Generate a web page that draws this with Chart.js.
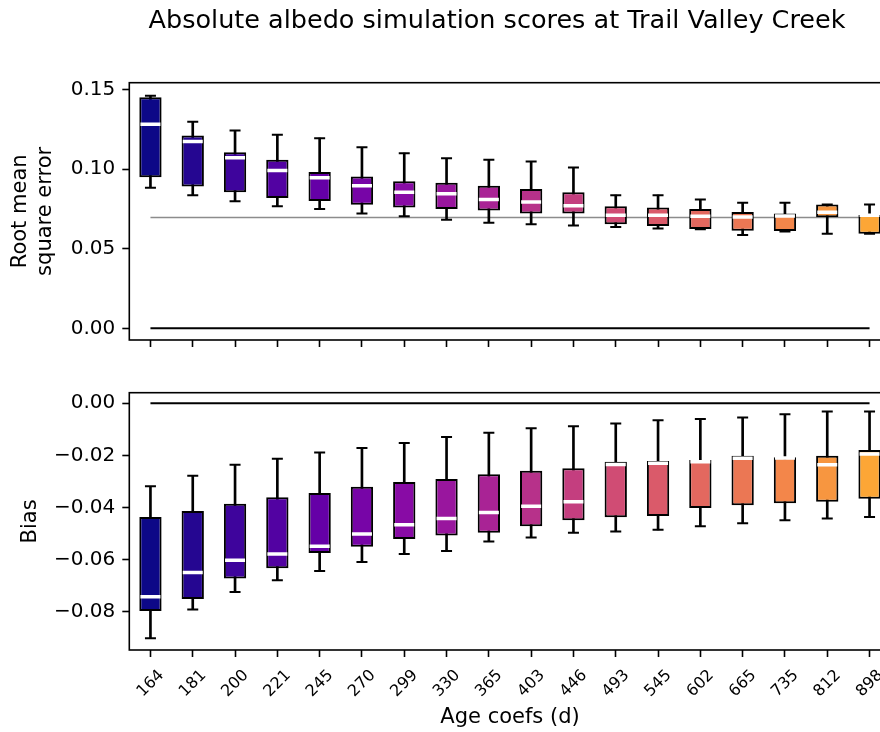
<!DOCTYPE html>
<html>
<head>
<meta charset="utf-8">
<script src="https://cdn.jsdelivr.net/npm/chart.js@4.4.1/dist/chart.umd.min.js"></script>
<style>
  html, body { margin: 0; padding: 0; background: #fff; overflow: hidden; }
  #wrap { position: relative; width: 880px; height: 732px; overflow: hidden; }
  canvas { position: absolute; left: 0; }
  #rmseChart { top: 0; }
  #biasChart { top: 360px; }
</style>
</head>
<body>
<div id="wrap">
  <canvas id="rmseChart" width="994" height="360"></canvas>
  <canvas id="biasChart" width="994" height="372"></canvas>
</div>
<script>
// age coefficients (days)
const categories = ['164', '181', '200', '221', '245', '270', '299', '330', '365', '403', '446', '493', '545', '602', '665', '735', '812', '898'];

// RMSE box stats
const rmseLow  = [0.0884, 0.0837, 0.0798, 0.0768, 0.0750, 0.0721, 0.0704, 0.0683, 0.0664, 0.0654, 0.0646, 0.0637, 0.0627, 0.0622, 0.0587, 0.0609, 0.0595, 0.0595];
const rmseQ1   = [0.0950, 0.0892, 0.0856, 0.0819, 0.0800, 0.0777, 0.0760, 0.0750, 0.0740, 0.0721, 0.0721, 0.0654, 0.0643, 0.0624, 0.0614, 0.0612, 0.0698, 0.0595];
const rmseMed  = [0.1282, 0.1174, 0.1072, 0.0992, 0.0946, 0.0896, 0.0856, 0.0846, 0.0810, 0.0794, 0.0771, 0.0710, 0.0710, 0.0704, 0.0700, 0.0706, 0.0729, 0.0710];
const rmseQ3   = [0.1452, 0.1212, 0.1107, 0.1059, 0.0982, 0.0955, 0.0925, 0.0915, 0.0896, 0.0875, 0.0856, 0.0768, 0.0760, 0.0750, 0.0731, 0.0721, 0.0779, 0.0712];
const rmseHigh = [0.1462, 0.1299, 0.1243, 0.1216, 0.1195, 0.1138, 0.1101, 0.1069, 0.1059, 0.1049, 0.1011, 0.0837, 0.0837, 0.0810, 0.0790, 0.0790, 0.0779, 0.0779];
const rmseReference = 0.0696;

// bias box stats
const biasLow  = [-0.0901, -0.0790, -0.0723, -0.0678, -0.0643, -0.0608, -0.0578, -0.0566, -0.0530, -0.0514, -0.0496, -0.0491, -0.0485, -0.0471, -0.0460, -0.0448, -0.0442, -0.0436];
const biasQ1   = [-0.0796, -0.0750, -0.0672, -0.0632, -0.0574, -0.0550, -0.0520, -0.0507, -0.0496, -0.0471, -0.0448, -0.0437, -0.0432, -0.0401, -0.0391, -0.0383, -0.0377, -0.0366];
const biasMed  = [-0.0742, -0.0649, -0.0602, -0.0578, -0.0548, -0.0501, -0.0466, -0.0442, -0.0419, -0.0395, -0.0377, -0.0235, -0.0230, -0.0224, -0.0211, -0.0210, -0.0236, -0.0194];
const biasQ3   = [-0.0436, -0.0413, -0.0385, -0.0360, -0.0344, -0.0320, -0.0302, -0.0290, -0.0272, -0.0259, -0.0249, -0.0224, -0.0221, -0.0217, -0.0201, -0.0207, -0.0201, -0.0179];
const biasHigh = [-0.0318, -0.0278, -0.0236, -0.0213, -0.0189, -0.0171, -0.0152, -0.0129, -0.0113, -0.0096, -0.0088, -0.0077, -0.0065, -0.0060, -0.0054, -0.0042, -0.0031, -0.0031];

// tick labels
const rmseTicks = [0, 0.05, 0.10, 0.15];
const biasTicks = [-0.08, -0.06, -0.04, -0.02, 0];

const FONT = 'DejaVu Sans';
Chart.defaults.font.family = FONT;
Chart.defaults.color = '#000';

// plasma colormap
const plasmaStops = ['#0d0887', '#41049d', '#6a00a8', '#8f0da4', '#b12a90', '#cc4778', '#e16462', '#f2844b', '#fca636', '#fcce25', '#f0f921'];
function plasma(t) {
    const p = t * (plasmaStops.length - 1);
    const i = Math.min(Math.floor(p), plasmaStops.length - 2);
    const f = p - i;
    const a = plasmaStops[i], b = plasmaStops[i + 1];
    const c = [1, 3, 5].map(k => {
        const x = parseInt(a.substr(k, 2), 16), y = parseInt(b.substr(k, 2), 16);
        return Math.round(x + (y - x) * f);
    });
    return `rgb(${c[0]}, ${c[1]}, ${c[2]})`;
}
const boxColors = categories.map((_, i) => plasma(0.8 * i / (categories.length - 1)));

const fmt = v => (v < 0 ? '\u2212' : '') + Math.abs(v).toFixed(2);

// black frame round the plot area
const axesFrame = {
    id: 'axesFrame',
    afterDatasetsDraw(chart) {
        const { ctx, chartArea: a } = chart;
        ctx.save();
        ctx.strokeStyle = '#000';
        ctx.lineWidth = 1.6;
        ctx.strokeRect(a.left, a.top, a.right - a.left, a.bottom - a.top);
        ctx.restore();
    }
};

// figure title, centred on the whole figure rather than the plot area
const suptitle = {
    id: 'suptitle',
    afterDraw(chart, args, opts) {
        if (!opts.text) return;
        const ctx = chart.ctx;
        ctx.save();
        ctx.font = `${opts.size}px "${FONT}"`;
        ctx.fillStyle = '#000';
        ctx.textAlign = 'center';
        ctx.textBaseline = 'alphabetic';
        ctx.fillText(opts.text, chart.width / 2, opts.baseline);
        ctx.restore();
    }
};

function boxDatasets(low, q1, med, q3, high) {
    return [
        { type: 'bar', data: categories.map((_, i) => [low[i], high[i]]), backgroundColor: '#000',
          barThickness: 2, grouped: false, order: 3 },
        { type: 'bar', data: categories.map((_, i) => [q1[i], q3[i]]), backgroundColor: boxColors,
          borderColor: '#000', borderWidth: 2, borderSkipped: false,
          barPercentage: 0.527, categoryPercentage: 1, grouped: false, order: 2 },
        { type: 'line', data: high, showLine: false, pointStyle: 'line', pointRadius: 5.5,
          pointBorderWidth: 2, pointBorderColor: '#000', order: 1 },
        { type: 'line', data: low, showLine: false, pointStyle: 'line', pointRadius: 5.5,
          pointBorderWidth: 2, pointBorderColor: '#000', order: 1 },
        { type: 'line', data: med, showLine: false, pointStyle: 'line', pointRadius: 10,
          pointBorderWidth: 3.5, pointBorderColor: '#fff', order: 0 }
    ];
}

const tickGrid = { display: true, drawOnChartArea: false, drawTicks: true, tickLength: 7,
                   tickWidth: 1.6, tickColor: '#000', offset: false };

function yAxis(min, max, ticks, title, titlePad) {
    return {
        min: min, max: max,
        afterBuildTicks: s => { s.ticks = ticks.map(v => ({ value: v })); },
        afterFit: s => { s.width = 129.3; s.paddingTop = 0; s.paddingBottom = 0; },
        ticks: { callback: v => fmt(v), font: { size: 20 }, color: '#000', padding: 7 },
        grid: tickGrid,
        border: { display: false },
        title: { display: true, text: title, font: { size: 21 }, color: '#000', padding: { top: titlePad, bottom: 0 } }
    };
}

// 1. RMSE panel
new Chart(document.getElementById('rmseChart'), {
    type: 'bar',
    data: {
        labels: categories,
        datasets: [
            { type: 'line', data: categories.map(() => 0), borderColor: '#000', borderWidth: 2, pointRadius: 0, order: 5 },
            { type: 'line', data: categories.map(() => rmseReference), borderColor: '#8c8c8c', borderWidth: 1.5, pointRadius: 0, order: 5 },
            ...boxDatasets(rmseLow, rmseQ1, rmseMed, rmseQ3, rmseHigh)
        ]
    },
    options: {
        responsive: false,
        animation: false,
        events: [],
        devicePixelRatio: 1,
        layout: { padding: { left: 0, right: 103.3, top: 82.7, bottom: 10 } },
        plugins: {
            legend: { display: false },
            tooltip: { enabled: false },
            suptitle: { text: 'Absolute albedo simulation scores at Trail Valley Creek', size: 25.5, baseline: 27.7 }
        },
        scales: {
            x: {
                offset: true,
                ticks: { display: false },
                grid: tickGrid,
                border: { display: false },
                afterFit: s => { s.height = 10; s.paddingLeft = 0; s.paddingRight = 0; }
            },
            y: yAxis(-0.00733, 0.15438, rmseTicks, ['Root mean', 'square error'], 7.9)
        }
    },
    plugins: [axesFrame, suptitle]
});

// 2. Bias panel
new Chart(document.getElementById('biasChart'), {
    type: 'bar',
    data: {
        labels: categories,
        datasets: [
            { type: 'line', data: categories.map(() => 0), borderColor: '#000', borderWidth: 2, pointRadius: 0, order: 5 },
            ...boxDatasets(biasLow, biasQ1, biasMed, biasQ3, biasHigh)
        ]
    },
    options: {
        responsive: false,
        animation: false,
        events: [],
        devicePixelRatio: 1,
        layout: { padding: { left: 0, right: 103.3, top: 32.7, bottom: 0 } },
        plugins: {
            legend: { display: false },
            tooltip: { enabled: false }
        },
        scales: {
            x: {
                offset: true,
                ticks: { font: { size: 16 }, color: '#000', maxRotation: 45, minRotation: 45,
                         padding: 9, labelOffset: 11, autoSkip: false },
                grid: tickGrid,
                border: { display: false },
                title: { display: true, text: 'Age coefs (d)', font: { size: 21 }, color: '#000',
                         padding: { top: 0, bottom: 2 } },
                afterFit: s => { s.height = 82; s.paddingLeft = 0; s.paddingRight = 0; }
            },
            y: yAxis(-0.09457, 0.00406, biasTicks, 'Bias', 18)
        }
    },
    plugins: [axesFrame]
});
</script>
</body>
</html>
